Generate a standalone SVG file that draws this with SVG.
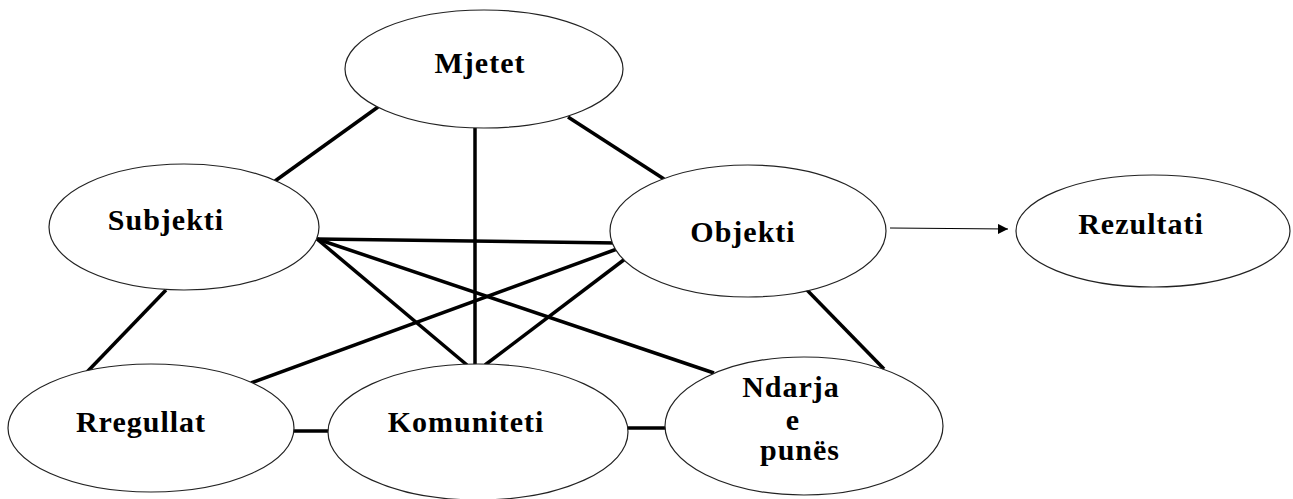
<svg xmlns="http://www.w3.org/2000/svg" width="1293" height="499" viewBox="0 0 1293 499">
  <defs>
    <style>
      .node ellipse { fill: #ffffff; stroke: #222222; stroke-width: 1.2; }
      .node text { font-family: "Liberation Serif", "Times New Roman", serif; font-weight: bold; font-size: 30px; letter-spacing: 1px; fill: #000000; text-anchor: middle; }
      .link { stroke: #000000; stroke-width: 3.5; fill: none; }
      .flow { stroke: #000000; stroke-width: 1.2; fill: none; }
    </style>
    <marker id="arrow" viewBox="0 0 10 10" refX="10" refY="5" markerWidth="10" markerHeight="10" markerUnits="userSpaceOnUse" orient="auto">
      <path d="M0,0 L10,5 L0,10 z" fill="#000000"/>
    </marker>
  </defs>

  <!-- connectors -->
  <g id="connectors">
    <line class="link" x1="275" y1="181" x2="378" y2="107"/>
    <line class="link" x1="568" y1="117" x2="664" y2="179"/>
    <line class="link" x1="475" y1="128" x2="475" y2="365"/>
    <line class="link" x1="317" y1="239" x2="617" y2="243"/>
    <line class="link" x1="317" y1="239" x2="467" y2="365"/>
    <line class="link" x1="317" y1="239" x2="714" y2="373"/>
    <line class="link" x1="617" y1="249" x2="251" y2="383"/>
    <line class="link" x1="625" y1="259" x2="485" y2="365"/>
    <line class="link" x1="806" y1="289" x2="884" y2="369"/>
    <line class="link" x1="166" y1="290" x2="87" y2="372"/>
    <line class="link" x1="293" y1="431" x2="329" y2="431"/>
    <line class="link" x1="627" y1="428" x2="666" y2="428"/>
    <line class="flow" x1="890" y1="228" x2="1008" y2="229" marker-end="url(#arrow)"/>
  </g>

  <g id="mjetet" class="node">
    <ellipse cx="484" cy="69" rx="139" ry="59"/>
    <text x="480" y="73">Mjetet</text>
  </g>

  <g id="subjekti" class="node">
    <ellipse cx="184" cy="227" rx="135" ry="63"/>
    <text x="166" y="230">Subjekti</text>
  </g>

  <g id="objekti" class="node">
    <ellipse cx="748" cy="231" rx="138" ry="66"/>
    <text x="743" y="242">Objekti</text>
  </g>

  <g id="rezultati" class="node">
    <ellipse cx="1153" cy="231" rx="137" ry="56"/>
    <text x="1141" y="234">Rezultati</text>
  </g>

  <g id="rregullat" class="node">
    <ellipse cx="151" cy="428" rx="143" ry="64"/>
    <text x="141" y="432">Rregullat</text>
  </g>

  <g id="komuniteti" class="node">
    <ellipse cx="478" cy="432" rx="150" ry="68"/>
    <text x="466" y="432">Komuniteti</text>
  </g>

  <g id="ndarja" class="node">
    <ellipse cx="804" cy="426" rx="139" ry="69"/>
    <text x="791" y="397">Ndarja</text>
    <text x="793" y="430">e</text>
    <text x="800" y="460">punës</text>
  </g>
</svg>
